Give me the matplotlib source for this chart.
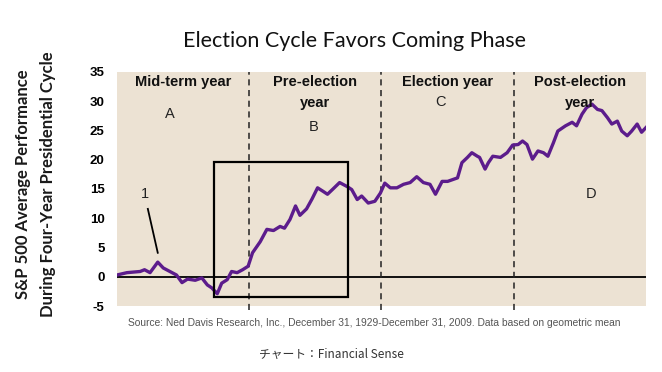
import matplotlib
matplotlib.use("Agg")

import matplotlib.pyplot as plt
from matplotlib import font_manager
from matplotlib.patches import Rectangle

# ---------------------------
# Data
# ---------------------------
months = [0.0, 0.9, 2.1, 2.5, 3.0, 3.7, 4.2, 4.8, 5.4, 5.9, 6.4, 7.1, 7.7, 8.2,
          8.6, 9.1, 9.5, 10.0, 10.4, 10.9, 11.4, 11.9, 12.3, 13.0, 13.6, 14.2,
          14.8, 15.2, 15.7, 16.2, 16.6, 17.2, 17.7, 18.2, 18.7, 19.1, 19.6,
          20.2, 20.9, 21.3, 21.8, 22.2, 22.8, 23.4, 23.9, 24.3, 24.8, 25.4,
          26.0, 26.6, 27.2, 27.8, 28.4, 28.9, 29.5, 30.0, 30.9, 31.3, 31.8,
          32.2, 32.7, 32.9, 33.4, 33.7, 34.1, 34.8, 35.4, 35.9, 36.4, 36.8,
          37.2, 37.7, 38.2, 38.7, 39.1, 39.6, 40.0, 40.7, 41.3, 41.7, 42.2,
          42.6, 43.1, 43.6, 44.0, 44.5, 44.9, 45.4, 45.8, 46.3, 46.7, 47.2,
          47.6, 48.0]
performance = [0.3, 0.7, 0.9, 1.2, 0.7, 2.5, 1.5, 0.9, 0.3, -1.0, -0.4, -0.6,
               -0.2, -1.4, -1.9, -2.9, -1.1, -0.5, 0.9, 0.7, 1.2, 1.8, 4.1,
               6.0, 8.1, 7.9, 8.6, 8.3, 9.8, 12.1, 10.5, 11.6, 13.3, 15.2,
               14.6, 14.1, 15.0, 16.1, 15.4, 14.9, 13.2, 13.8, 12.6, 12.9,
               14.3, 16.0, 15.2, 15.2, 15.8, 16.1, 17.1, 16.1, 15.8, 14.1,
               16.3, 16.3, 16.9, 19.5, 20.4, 21.2, 20.6, 20.4, 18.4, 19.5,
               20.6, 20.4, 21.2, 22.5, 22.6, 23.2, 22.6, 20.1, 21.5, 21.2,
               20.6, 22.9, 24.9, 25.8, 26.4, 25.8, 27.8, 28.9, 29.5, 28.6,
               28.4, 27.2, 26.1, 26.6, 24.9, 24.1, 24.9, 26.1, 24.7, 25.5]

phase_ends = [12, 24, 36]
phase_names = ["Mid-term year", "Pre-election\nyear", "Election year",
               "Post-election\nyear"]
phase_letters = ["A", "B", "C", "D"]
letter_pos = [(4.8, 27.8), (17.8, 25.6), (29.4, 29.8), (43.0, 14.1)]

yticks = [-5, 0, 5, 10, 15, 20, 25, 30, 35]

BG = "#ECE2D3"
PURPLE = "#5C1C8C"

# ---------------------------
# Fonts
# ---------------------------
installed = {f.name for f in font_manager.fontManager.ttflist}


def pick(*names):
    for n in names:
        if n in installed:
            return n
    return "DejaVu Sans"


NARROW = pick("Liberation Sans Narrow", "Liberation Sans")
ARIAL = pick("Liberation Sans", "Arial")
TITLE = pick("Lato", "Open Sans")
CJK = pick("Noto Sans CJK JP", "Noto Sans CJK SC")

fig = plt.figure(figsize=(6.62, 3.72), dpi=100)
ax = fig.add_axes([0.1767, 0.1774, 0.7991, 0.6291])
ax.set_facecolor(BG)

ax.plot(months, performance, color=PURPLE, lw=2.4, zorder=3)
ax.axhline(0, color="black", lw=1.3, zorder=2)

# phase separators
for m in phase_ends:
    ax.plot([m, m], [-5.6, 35], color="#222222", lw=1.1, ls=(0, (4, 3)),
            clip_on=False, zorder=2)

# highlight box
ax.add_patch(Rectangle((8.8, -3.4), 12.2, 23.0, fill=False,
                       edgecolor="black", lw=1.6, zorder=4))

# phase headings
for i, name in enumerate(phase_names):
    ax.text(i * 12 + 6, 34.4, name, ha="center", va="top", fontsize=10.5,
            fontweight="bold", family=ARIAL, color="#111111",
            linespacing=1.55)

for letter, (lx, ly) in zip(phase_letters, letter_pos):
    ax.text(lx, ly, letter, ha="center", va="center", fontsize=10.5,
            family=ARIAL, color="#222222")

# annotation "1"
ax.text(2.5, 14.1, "1", ha="center", va="center", fontsize=10.5,
        family=ARIAL, color="#222222")
ax.plot([2.8, 3.7], [11.6, 4.1], color="black", lw=1.3)

ax.set_xlim(0, 48)
ax.set_ylim(-5, 35)
ax.set_xticks([])
ax.set_yticks(yticks)
ax.set_yticklabels([str(t) for t in yticks], family=NARROW,
                   fontweight="bold", fontsize=9.5)
ax.tick_params(axis="y", length=0, pad=9)
for s in ax.spines.values():
    s.set_visible(False)

fig.text(0.035, 0.505, "S&P 500 Average Performance", rotation=90,
         ha="center", va="center", fontsize=12, family=TITLE,
         fontweight="bold", color="#1a1a1a")
fig.text(0.072, 0.505, "During Four-Year Presidential Cycle", rotation=90,
         ha="center", va="center", fontsize=12, family=TITLE,
         fontweight="bold", color="#1a1a1a")

fig.text(0.536, 0.89, "Election Cycle Favors Coming Phase", ha="center",
         va="center", fontsize=15.5, family=TITLE, color="#111111")

fig.text(0.565, 0.132, "Source: Ned Davis Research, Inc., December 31, "
         "1929-December 31, 2009. Data based on geometric mean",
         ha="center", va="center", fontsize=7.4, family=ARIAL,
         color="#555555")

fig.text(0.5, 0.048, "チャート：Financial Sense", ha="center", va="center",
         fontsize=8.5, family=[CJK, "DejaVu Sans"], color="#333333")

fig.savefig("out.png", dpi=100)
